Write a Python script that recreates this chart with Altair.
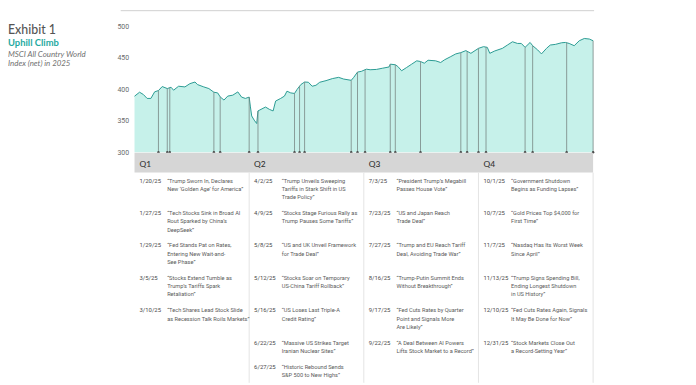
import altair as alt
import pandas as pd
import numpy as np

# ---------------- data ----------------
DATES = [
    "2025-01-01", "2025-01-05", "2025-01-08", "2025-01-11", "2025-01-14", "2025-01-17",
    "2025-01-20", "2025-01-23", "2025-01-27", "2025-01-30", "2025-02-01", "2025-02-05",
    "2025-02-10", "2025-02-14", "2025-02-18", "2025-02-20", "2025-02-25", "2025-03-01",
    "2025-03-05", "2025-03-08", "2025-03-10", "2025-03-13", "2025-03-16", "2025-03-20",
    "2025-03-24", "2025-03-27", "2025-03-30", "2025-04-02", "2025-04-03", "2025-04-04",
    "2025-04-06", "2025-04-08", "2025-04-09", "2025-04-13", "2025-04-15", "2025-04-18",
    "2025-04-21", "2025-04-23", "2025-04-27", "2025-04-30", "2025-05-02", "2025-05-05",
    "2025-05-08", "2025-05-10", "2025-05-13", "2025-05-16", "2025-05-19", "2025-05-22",
    "2025-05-25", "2025-05-28", "2025-06-02", "2025-06-07", "2025-06-12", "2025-06-16",
    "2025-06-22", "2025-06-24", "2025-06-27", "2025-06-30", "2025-07-04", "2025-07-07",
    "2025-07-12", "2025-07-17", "2025-07-22", "2025-07-23", "2025-07-27", "2025-07-29",
    "2025-08-01", "2025-08-05", "2025-08-09", "2025-08-13", "2025-08-16", "2025-08-19",
    "2025-08-22", "2025-08-28", "2025-09-01", "2025-09-04", "2025-09-09", "2025-09-13",
    "2025-09-17", "2025-09-21", "2025-09-25", "2025-10-01", "2025-10-05", "2025-10-08",
    "2025-10-10", "2025-10-14", "2025-10-20", "2025-10-24", "2025-10-28", "2025-11-01",
    "2025-11-04", "2025-11-07", "2025-11-11", "2025-11-13", "2025-11-17", "2025-11-20",
    "2025-11-24", "2025-11-27", "2025-12-01", "2025-12-06", "2025-12-09", "2025-12-12",
    "2025-12-16", "2025-12-20", "2025-12-24", "2025-12-28", "2025-12-31",
]
VALUES = [
    389.0, 395.4, 391.8, 385.5, 385.5, 396.0,
    398.0, 404.4, 401.2, 403.3, 398.6, 404.9,
    403.8, 409.0, 411.6, 407.5, 403.8, 401.2,
    395.4, 394.3, 388.0, 382.9, 389.2, 390.7,
    395.9, 387.6, 385.5, 387.6, 372.0, 357.7,
    351.0, 345.6, 365.6, 369.8, 371.8, 368.2,
    365.6, 381.3, 385.5, 389.2, 397.0, 394.3,
    393.4, 399.7, 407.5, 411.6, 411.2, 404.9,
    406.4, 411.2, 413.8, 417.0, 419.0, 416.3,
    414.3, 419.0, 427.4, 428.5, 432.0, 431.1,
    431.6, 433.6, 435.5, 440.0, 439.0, 436.3,
    429.5, 434.7, 440.0, 445.3, 444.2, 441.5,
    446.2, 445.3, 442.6, 446.8, 452.0, 456.3,
    458.3, 461.5, 457.2, 465.1, 467.8, 466.7,
    457.2, 461.0, 465.1, 470.4, 475.6, 472.9,
    472.9, 466.7, 474.5, 469.3, 462.6, 456.3,
    465.1, 470.4, 471.4, 474.0, 474.5, 472.9,
    469.3, 477.2, 480.8, 479.9, 477.2,
]

Y_TICKS = [300, 350, 400, 450, 500]
QUARTERS = ["Q1", "Q2", "Q3", "Q4"]

EVENT_DATES = [
    "2025-01-20", "2025-01-27", "2025-01-29", "2025-03-05", "2025-03-10",
    "2025-04-02", "2025-04-09", "2025-05-08", "2025-05-12", "2025-05-16", "2025-06-22", "2025-06-27",
    "2025-07-03", "2025-07-23", "2025-07-27", "2025-08-16", "2025-09-17", "2025-09-22",
    "2025-10-01", "2025-10-07", "2025-11-07", "2025-11-13", "2025-12-10", "2025-12-31",
]
EVENT_LABELS = [
    "1/20/25", "1/27/25", "1/29/25", "3/5/25", "3/10/25",
    "4/2/25", "4/9/25", "5/8/25", "5/12/25", "5/16/25", "6/22/25", "6/27/25",
    "7/3/25", "7/23/25", "7/27/25", "8/16/25", "9/17/25", "9/22/25",
    "10/1/25", "10/7/25", "11/7/25", "11/13/25", "12/10/25", "12/31/25",
]
EVENT_QUARTER = [0] * 5 + [1] * 7 + [2] * 6 + [3] * 6
EVENT_ROW = [0, 1, 2, 3, 4] + [0, 1, 2, 3, 4, 5, 6] + [0, 1, 2, 3, 4, 5] + [0, 1, 2, 3, 4, 5]
EVENT_HEADLINES = [
    "\u201cTrump Sworn In, Declares\nNew \u2018Golden Age\u2019 for America\u201d",
    "\u201cTech Stocks Sink in Broad AI\nRout Sparked by China\u2019s\nDeepSeek\u201d",
    "\u201cFed Stands Pat on Rates,\nEntering New Wait-and-\nSee Phase\u201d",
    "\u201cStocks Extend Tumble as\nTrump\u2019s Tariffs Spark\nRetaliation\u201d",
    "\u201cTech Shares Lead Stock Slide\nas Recession Talk Roils Markets\u201d",
    "\u201cTrump Unveils Sweeping\nTariffs in Stark Shift in US\nTrade Policy\u201d",
    "\u201cStocks Stage Furious Rally as\nTrump Pauses Some Tariffs\u201d",
    "\u201cUS and UK Unveil Framework\nfor Trade Deal\u201d",
    "\u201cStocks Soar on Temporary\nUS-China Tariff Rollback\u201d",
    "\u201cUS Loses Last Triple-A\nCredit Rating\u201d",
    "\u201cMassive US Strikes Target\nIranian Nuclear Sites\u201d",
    "\u201cHistoric Rebound Sends\nS&P 500 to New Highs\u201d",
    "\u201cPresident Trump\u2019s Megabill\nPasses House Vote\u201d",
    "\u201cUS and Japan Reach\nTrade Deal\u201d",
    "\u201cTrump and EU Reach Tariff\nDeal, Avoiding Trade War\u201d",
    "\u201cTrump-Putin Summit Ends\nWithout Breakthrough\u201d",
    "\u201cFed Cuts Rates by Quarter\nPoint and Signals More\nAre Likely\u201d",
    "\u201cA Deal Between AI Powers\nLifts Stock Market to a Record\u201d",
    "\u201cGovernment Shutdown\nBegins as Funding Lapses\u201d",
    "\u201cGold Prices Top $4,000 for\nFirst Time\u201d",
    "\u201cNasdaq Has Its Worst Week\nSince April\u201d",
    "\u201cTrump Signs Spending Bill,\nEnding Longest Shutdown\nin US History\u201d",
    "\u201cFed Cuts Rates Again, Signals\nIt May Be Done for Now\u201d",
    "\u201cStock Markets Close Out\na Record-Setting Year\u201d",
]

TITLE = "Exhibit 1"
SUBTITLE = "Uphill Climb"
DESCRIPTION = ["MSCI All Country World", "Index (net) in 2025"]

# ---------------- layout / style ----------------
W, H = 464, 377
TEAL_FILL = "#c6f1ea"
TEAL_LINE = "#2b9b93"
NARROW = "Roboto"
SANS = "Lato"
ROW_SLOT = [0, 1, 2, 3, 4, 5, 5.74]

start = pd.Timestamp("2025-01-01")
series = pd.DataFrame({"date": pd.to_datetime(DATES), "value": VALUES})
series["day"] = (series["date"] - start).dt.days

events = pd.DataFrame({
    "date": pd.to_datetime(EVENT_DATES),
    "label": EVENT_LABELS,
    "qi": EVENT_QUARTER,
    "row": EVENT_ROW,
    "headline": EVENT_HEADLINES,
})
events["day"] = (events["date"] - start).dt.days
events["top"] = np.interp(events["day"], series["day"], series["value"])
events["base"] = 300
events["slot"] = [ROW_SLOT[r] for r in events["row"]]

quarters = pd.DataFrame({"q": QUARTERS, "qi": list(range(4))})
band = pd.DataFrame({"a": [0], "b": [4]})
dividers = pd.DataFrame({"qi": [1, 2, 3, 4]})

xs = alt.Scale(domain=[0, 364], range=[0, W], nice=False, zero=False)
ys = alt.Scale(domain=[300, 500], range=[143.7, 16.4], nice=False, zero=False)
tx = alt.Scale(domain=[0, 4], range=[0, W], nice=False, zero=False)
ty = alt.Scale(domain=[0, 6], range=[169.4, 366.2], nice=False, zero=False)

X = alt.X("day:Q", scale=xs, axis=None)

area = alt.Chart(series).mark_area(color=TEAL_FILL, opacity=1).encode(
    x=X,
    y=alt.Y("value:Q", scale=ys, title=None,
            axis=alt.Axis(values=Y_TICKS, grid=False, domain=False, ticks=False, tickSize=0,
                          labelPadding=6, labelFont=NARROW, labelFontSize=7,
                          labelColor="#6a6a6a", labelFlush=False)),
    y2=alt.datum(300),
)
line = alt.Chart(series).mark_line(color=TEAL_LINE, strokeWidth=1).encode(
    x=X, y=alt.Y("value:Q", scale=ys, axis=None))
rules = alt.Chart(events).mark_rule(color="#778583", strokeWidth=0.8).encode(
    x=X, y=alt.Y("top:Q", scale=ys, axis=None), y2=alt.datum(300))
dots = alt.Chart(events).mark_circle(color="#4a4a4a", size=6, opacity=1).encode(
    x=X, y=alt.Y("base:Q", scale=ys, axis=None))

band_rect = alt.Chart(band).mark_rect(color="#d6d6d6").encode(
    x=alt.X("a:Q", scale=tx, axis=None), x2="b:Q",
    y=alt.value(144.3), y2=alt.value(164.3))
q_labels = alt.Chart(quarters).mark_text(
    align="left", baseline="middle", dx=5, font=SANS, fontSize=8.5, color="#333333", fontWeight=500
).encode(x=alt.X("qi:Q", scale=tx, axis=None), y=alt.value(155.3), text="q:N")
div_rules = alt.Chart(dividers).mark_rule(color="#e4e4e4", strokeWidth=1).encode(
    x=alt.X("qi:Q", scale=tx, axis=None), y=alt.value(164.3), y2=alt.value(H))

date_text = alt.Chart(events).mark_text(
    align="left", baseline="top", dx=5, font=NARROW, fontSize=6, color="#4a4a4a"
).encode(x=alt.X("qi:Q", scale=tx, axis=None),
         y=alt.Y("slot:Q", scale=ty, axis=None), text="label:N")
head_text = alt.Chart(events).mark_text(
    align="left", baseline="top", dx=33, font=NARROW, fontSize=5.7, color="#5a5a5a",
    lineBreak="\n", lineHeight=8.4
).encode(x=alt.X("qi:Q", scale=tx, axis=None),
         y=alt.Y("slot:Q", scale=ty, axis=None), text="headline:N")

top_rule = alt.Chart(band).mark_rule(color="#cfcfcf", strokeWidth=1).encode(
    x=alt.value(-14), x2=alt.value(465), y=alt.value(0.5))

t1 = alt.Chart(pd.DataFrame({"t": [TITLE]})).mark_text(
    align="left", baseline="alphabetic", font=SANS, fontSize=12.5, color="#555555", fontWeight=500
).encode(text="t:N", x=alt.value(-128), y=alt.value(23.7))
t2 = alt.Chart(pd.DataFrame({"t": [SUBTITLE]})).mark_text(
    align="left", baseline="alphabetic", font=SANS, fontSize=9.5, color="#1fa9a1", fontWeight="bold"
).encode(text="t:N", x=alt.value(-128), y=alt.value(36))
t3 = alt.Chart(pd.DataFrame({"t": [DESCRIPTION[0]]})).mark_text(
    align="left", baseline="alphabetic", font=SANS, fontSize=8, color="#707070", fontStyle="italic"
).encode(text="t:N", x=alt.value(-128), y=alt.value(47.5))
t4 = alt.Chart(pd.DataFrame({"t": [DESCRIPTION[1]]})).mark_text(
    align="left", baseline="alphabetic", font=SANS, fontSize=8, color="#707070", fontStyle="italic"
).encode(text="t:N", x=alt.value(-128), y=alt.value(56.5))

chart = alt.layer(
    area, line, rules, dots, band_rect, q_labels, div_rules, date_text, head_text,
    top_rule, t1, t2, t3, t4
).resolve_scale(x="independent", y="independent").properties(
    width=W, height=H,
    autosize=alt.AutoSizeParams(type="none"),
    padding={"left": 128, "top": 0, "right": 96, "bottom": 0},
).configure(background="white").configure_view(strokeWidth=0, stroke="transparent")

chart.save("out.html", embed_options={"renderer": "svg", "actions": False})
